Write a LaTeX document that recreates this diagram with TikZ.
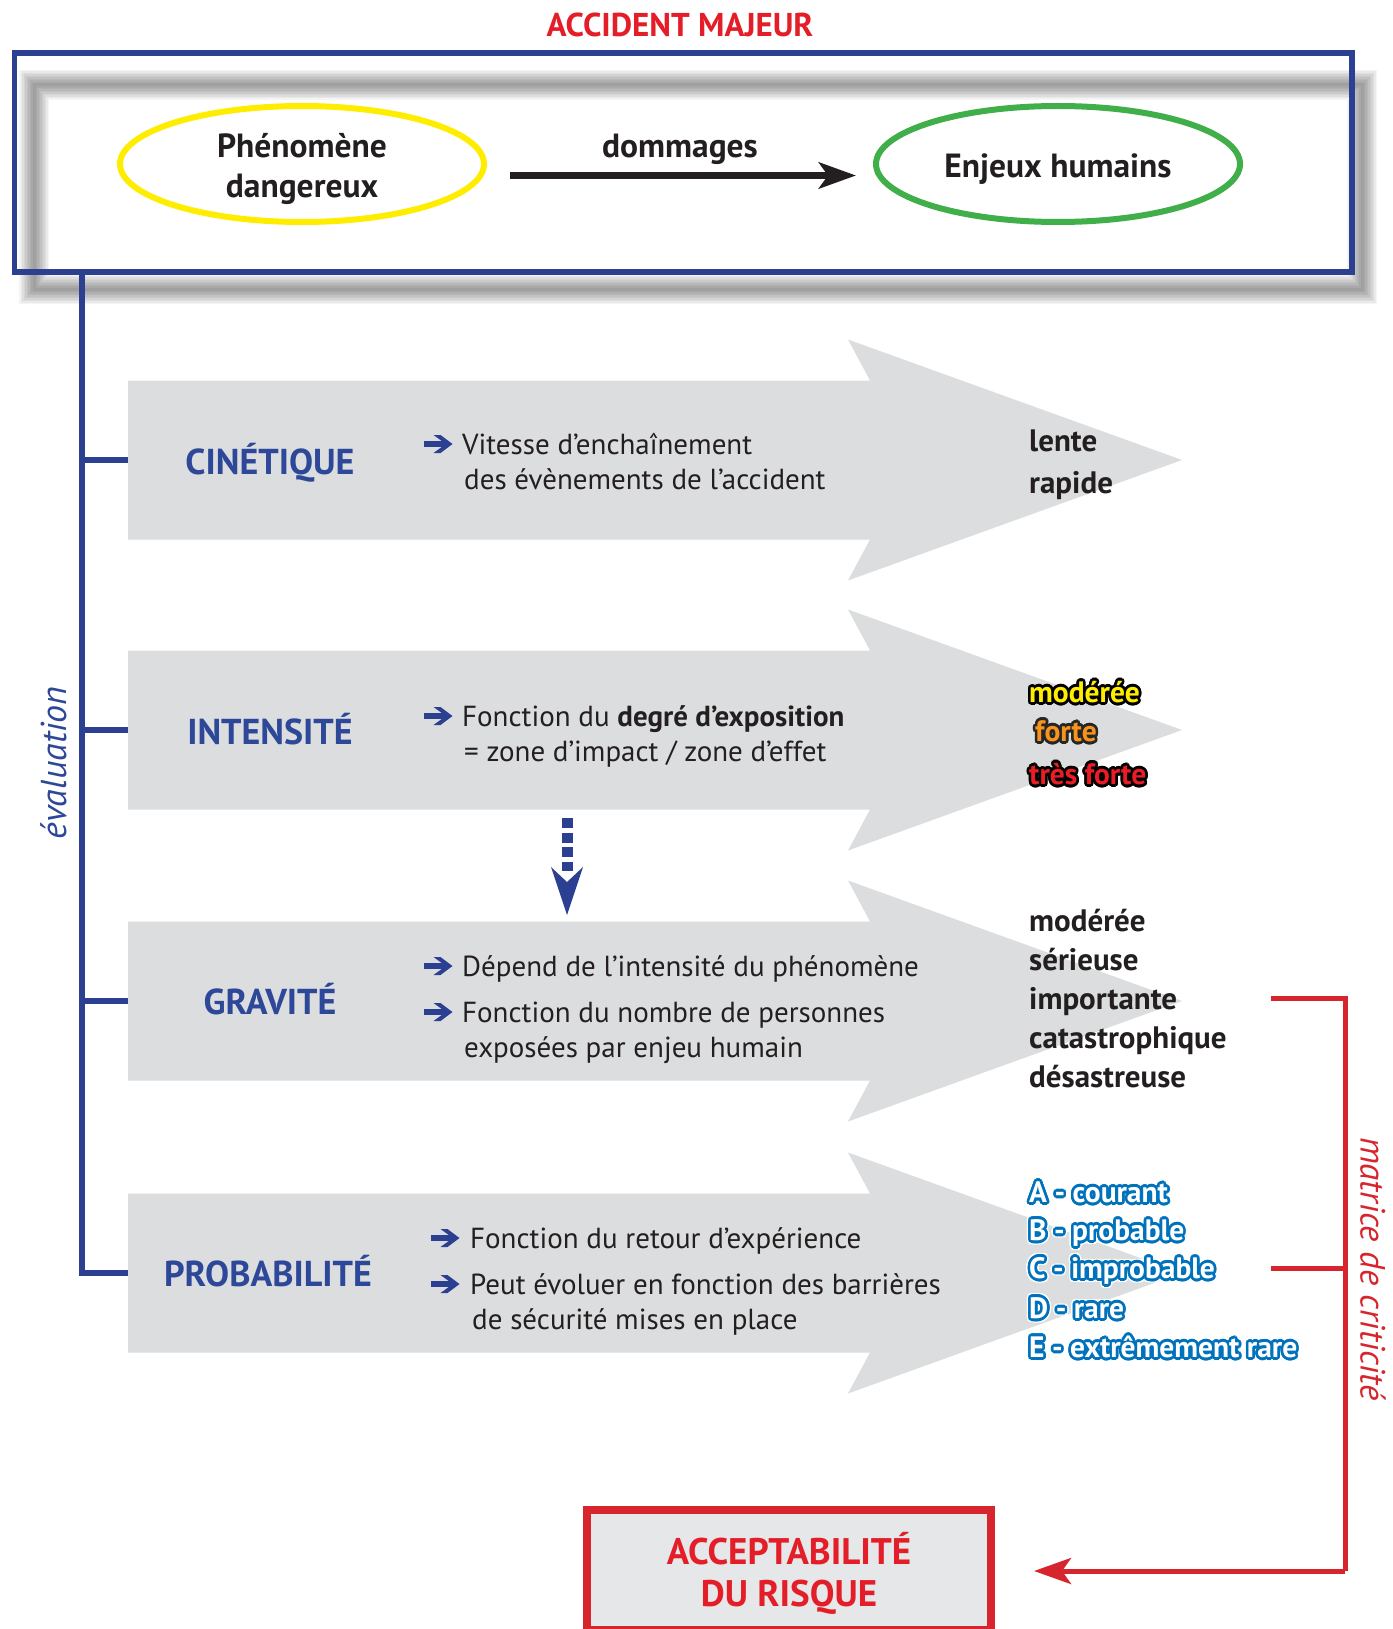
\documentclass[tikz,border=0pt]{standalone}
\usepackage{fontspec}
\setmainfont{PT Sans}
\usetikzlibrary{arrows.meta,shapes.geometric,calc}
\definecolor{bdark}{RGB}{43,64,145}
\definecolor{blab}{RGB}{45,72,152}
\definecolor{rred}{RGB}{215,37,45}
\definecolor{tred}{RGB}{228,30,40}
\definecolor{yel}{RGB}{255,237,0}
\definecolor{grn}{RGB}{64,174,73}
\definecolor{agray}{RGB}{220,221,222}
\definecolor{bgray}{RGB}{230,231,232}
\definecolor{tdark}{RGB}{35,31,32}
\definecolor{orng}{RGB}{247,148,29}
\definecolor{lblue}{RGB}{0,114,188}
\definecolor{mred}{RGB}{237,28,36}
\newcommand\outtext[5]{%
  \foreach \ang in {0,20,...,340}{\node[otx, text=#4] at ($(#2)+(\ang:2.6)$) {#5};}
  \node[otx, text=#3] (#1) at (#2) {#5};}
\newcommand\bluetext[3]{%
  \foreach \ang in {0,20,...,340}{\node[otx, text=white] at ($(#2)+(\ang:4.2)$) {#3};}
  \foreach \ang in {0,20,...,340}{\node[otx, text=lblue] at ($(#2)+(\ang:2.6)$) {#3};}
  \node[otx, text=white] (#1) at (#2) {#3};}
\begin{document}
\begin{tikzpicture}[x=1pt,y=-1pt,
  body/.style={font=\fontsize{29}{34}\selectfont, text=tdark, anchor=west, inner sep=0, text height=21pt, text depth=7.5pt},
  lab/.style={font=\bfseries\fontsize{36}{42}\selectfont, text=blab, inner sep=0, text height=26pt, text depth=0pt},
  rcol/.style={font=\bfseries\fontsize{31}{36}\selectfont, text=tdark, anchor=west, inner sep=0, text height=23pt, text depth=7pt},
  otx/.style={font=\bfseries\fontsize{29.5}{35}\selectfont, text=tdark, anchor=west, inner sep=0, text height=22pt, text depth=7pt},
  ell/.style={ellipse, line width=6pt, minimum width=364pt, minimum height=116pt, inner sep=0},
  ctext/.style={font=\bfseries\fontsize{33.5}{40}\selectfont, text=tdark, inner sep=0, text height=24pt, text depth=8pt},
  bul/.pic={\fill[bdark] (0,-2.8) -- (18,-2.8) -- (9.5,-9) -- (16.5,-9) -- (28.5,0) -- (16.5,9) -- (9.5,9) -- (18,2.8) -- (0,2.8) -- cycle;}
]
\useasboundingbox (0,0) rectangle (1392,1629);
\fill[white] (0,0) rectangle (1392,1629);

% title
\node[font=\bfseries\fontsize{33}{40}\selectfont, text=tred, inner sep=0, text height=23pt, text depth=0pt] (title) at (680,25) {ACCIDENT MAJEUR};

% soft shadow of top box
\foreach \w in {30,27,...,3}
  \draw[line width=\w pt, black, opacity=0.045] (34,85) rectangle (1362,289);
\draw[bdark, line width=5.5pt] (14.5,53) rectangle (1352,272);

% ellipses
\node[ell, draw=yel] (phen) at (302,164) {};
\node[ctext] (phent) at (302,150) {Phénomène};
\node[ctext] (phent2) at (302,190) {dangereux};
\node[ell, draw=grn] (enj) at (1058,164) {};
\node[ctext] (enjt) at (1058,170) {Enjeux humains};
\node[ctext] (domm) at (680,150) {dommages};
\coordinate (da) at (510,175.5);
\coordinate (db) at (856,175.5);
\draw[tdark, line width=7pt, -{Stealth[length=37pt,width=26pt,inset=9pt]}] (da) -- (db);

% evaluation line
\coordinate (e0) at (82,272);
\foreach \cy/\n in {460/1,730/2,1001/3,1273/4}{
  \coordinate (ev\n) at (128,\cy);
}
\draw[bdark, line width=5.5pt] (e0) |- (ev4);
\foreach \n in {1,2,3}{\draw[bdark, line width=5.5pt] (ev\n -| e0) -- (ev\n);}
\node[font=\itshape\fontsize{36}{42}\selectfont, text=blab, rotate=90, inner sep=0] (eval) at (54,763) {évaluation};

% gray arrows
\foreach \cy in {460,730,1001,1273}{
  \fill[agray] (128,\cy-79.5) -- (870,\cy-79.5) -- (848,\cy-120.5) -- (1182,\cy) -- (848,\cy+120.5) -- (870,\cy+79.5) -- (128,\cy+79.5) -- cycle;
}

% labels
\node[lab] (cin) at (270,461) {CINÉTIQUE};
\node[lab] (int) at (270,731) {INTENSITÉ};
\node[lab] (grav) at (270,1001) {GRAVITÉ};
\node[lab] (prob) at (268,1273) {PROBABILITÉ};

% bullets and body text
\pic at (424,444) {bul};
\node[body] (t11) at (462,448) {Vitesse d’enchaînement};
\node[body] (t12) at (464,483) {des évènements de l’accident};
\pic at (424,716) {bul};
\node[body] (t21) at (462,720) {Fonction du \textbf{degré d’exposition}};
\node[body] (t22) at (464,755) {= zone d’impact / zone d’effet};
\pic at (424,966) {bul};
\node[body] (t31) at (462,970) {Dépend de l’intensité du phénomène};
\pic at (424,1012) {bul};
\node[body] (t32) at (462,1016) {Fonction du nombre de personnes};
\node[body] (t33) at (464,1051) {exposées par enjeu humain};
\pic at (431,1238) {bul};
\node[body] (t41) at (470,1242) {Fonction du retour d’expérience};
\pic at (431,1284) {bul};
\node[body] (t42) at (470,1288) {Peut évoluer en fonction des barrières};
\node[body] (t43) at (472,1323) {de sécurité mises en place};

% dotted arrow
\coordinate (dd0) at (567,818);
\coordinate (dd1) at (567,871);
\draw[bdark, line width=11pt, dash pattern=on 10pt off 4.5pt] (dd0) -- (dd1);
\fill[bdark] (551,867) -- (567,882) -- (583,867) -- (567,915) -- cycle;

% right column
\node[rcol] (r11) at (1029,443) {lente};
\node[rcol] (r12) at (1029,485) {rapide};
\outtext{r21}{1029,695}{yel}{black}{modérée}
\outtext{r22}{1035,734}{orng}{black!85}{forte}
\outtext{r23}{1029,777}{mred}{black}{très forte}
\node[rcol] (r31) at (1029,923) {modérée};
\node[rcol] (r32) at (1029,962) {sérieuse};
\node[rcol] (r33) at (1029,1001) {importante};
\node[rcol] (r34) at (1029,1040) {catastrophique};
\node[rcol] (r35) at (1029,1079) {désastreuse};
\bluetext{r41}{1029,1195}{A - courant}
\bluetext{r42}{1029,1233}{B - probable}
\bluetext{r43}{1029,1271}{C - improbable}
\bluetext{r44}{1029,1311}{D - rare}
\bluetext{r45}{1029,1350}{E - extrêmement rare}

% red bracket
\coordinate (m1) at (1271,998);
\coordinate (m2) at (1271,1268);
\coordinate (mc) at (1345,1571);
\draw[rred, line width=5pt] (m1) -| (mc);
\draw[rred, line width=5pt] (m2) -- (m2 -| mc);
\node[font=\itshape\fontsize{35}{40}\selectfont, text=rred, rotate=-90, inner sep=0] (mat) at (1373,1269) {matrice de criticité};

% bottom box
\node[draw=rred, fill=bgray, line width=8pt, minimum width=404pt, minimum height=120pt, inner sep=0] (acc) at (789,1570) {};
\node[font=\bfseries\fontsize{37}{44}\selectfont, text=tred, inner sep=0, text height=26pt, text depth=0pt] (acct1) at (789,1551) {ACCEPTABILITÉ};
\node[font=\bfseries\fontsize{37}{44}\selectfont, text=tred, inner sep=0, text height=26pt, text depth=0pt] (acct2) at (789,1593) {DU RISQUE};
\draw[rred, line width=5pt, -{Stealth[length=37pt,width=26pt,inset=9pt]}] (mc) -- ($(acc.east)+(39,1)$);
\end{tikzpicture}
\end{document}
